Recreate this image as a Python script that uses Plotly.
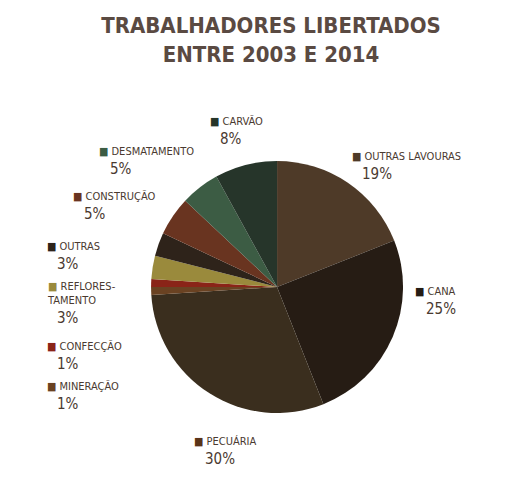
import plotly.graph_objects as go

categories = ["OUTRAS LAVOURAS", "CANA", "PECUÁRIA", "MINERAÇÃO", "CONFECÇÃO",
              "REFLORES-<br>TAMENTO", "OUTRAS", "CONSTRUÇÃO", "DESMATAMENTO", "CARVÃO"]
values = [19, 25, 30, 1, 1, 3, 3, 5, 5, 8]
colors = ["#4e3a28", "#261c14", "#3a2e1e", "#6a4222", "#8a2418",
          "#9a8a3c", "#2e231a", "#693420", "#3c5c44", "#26352a"]

# label positions (paper coords) for each slice
label_pos = [(0.65, 0.72), (0.77, 0.45), (0.35, 0.15), (0.07, 0.26), (0.07, 0.34),
             (0.07, 0.46), (0.07, 0.54), (0.12, 0.64), (0.17, 0.73), (0.38, 0.79)]
text_colors = ["#4e3a28", "#261c14", "#5a3418", "#6a4222", "#8a2418",
               "#9a8a3c", "#2e231a", "#693420", "#3c5c44", "#26352a"]
label_text = "#4a3a30"

fig = go.Figure(go.Pie(
    labels=categories, values=values, sort=False, direction="clockwise",
    rotation=0, marker=dict(colors=colors), textinfo="none", hoverinfo="label+percent",
    domain=dict(x=[0.272, 0.751], y=[0.184, 0.70]), showlegend=False,
))

for cat, v, (x, y), c in zip(categories, values, label_pos, text_colors):
    fig.add_annotation(
        x=x, y=y, xref="paper", yref="paper", xanchor="left", yanchor="top",
        align="left", showarrow=False,
        text=f"<span style='color:{c}'>■</span> {cat}",
        font=dict(family="DejaVu Sans Condensed", size=11, color=label_text),
    )
    dy = 0.058 if "<br>" in cat else 0.03
    fig.add_annotation(
        x=x + 0.02, y=y - dy, xref="paper", yref="paper", xanchor="left", yanchor="top",
        showarrow=False, text=f"{v}%",
        font=dict(family="DejaVu Sans Condensed", size=15, color=label_text),
    )

fig.update_layout(
    width=526, height=500, paper_bgcolor="white", plot_bgcolor="white",
    margin=dict(l=0, r=0, t=0, b=0),
    title=dict(text="<b>TRABALHADORES LIBERTADOS<br>ENTRE 2003 E 2014</b>",
               x=0.5, y=0.95, xanchor="center", yanchor="top",
               font=dict(family="DejaVu Sans Condensed", size=22, color="#5a4a42")),
)

fig.write_html("out.html")
